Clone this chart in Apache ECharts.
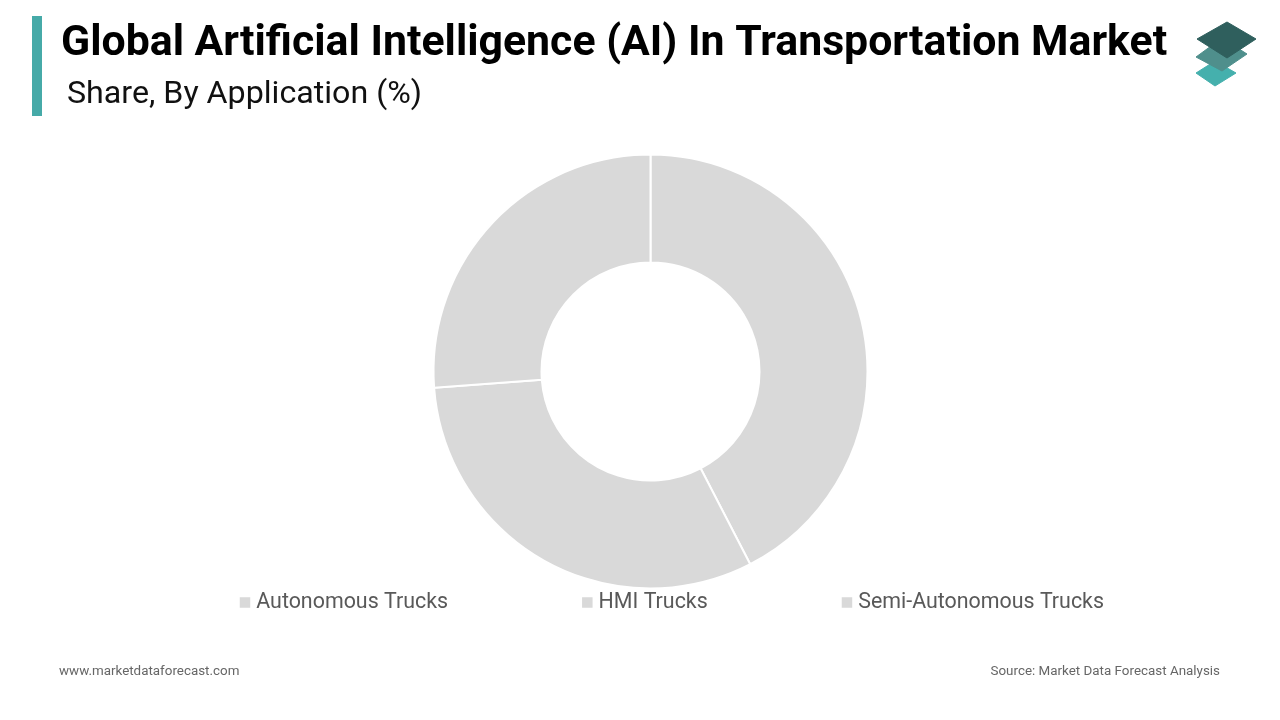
<!DOCTYPE html>
<html>
<head>
<meta charset="utf-8">
<style>
html, body { margin: 0; padding: 0; background: #fff; }
#chart { width: 1280px; height: 720px; }
</style>
<script src="https://cdn.jsdelivr.net/npm/echarts@6/dist/echarts.min.js"></script>
</head>
<body>
<div id="chart"></div>
<script>
var categories = ['Autonomous Trucks', 'HMI Trucks', 'Semi-Autonomous Trucks'];
var shares = [42.4, 31.4, 26.2];

var myChart = echarts.init(document.getElementById('chart'));

var option = {
    animation: false,
    backgroundColor: '#fff',
    textStyle: { fontFamily: 'Roboto' },
    title: [
        { text: 'Global Artificial Intelligence (AI) In Transportation Market', left: 56, top: 18,
          textStyle: { fontFamily: 'Roboto', fontSize: 42.8, fontWeight: 'bold', color: '#000' } },
        { text: 'Share, By Application (%)', left: 62, top: 74,
          textStyle: { fontFamily: 'Roboto', fontSize: 32.2, fontWeight: 'normal', color: '#111' } },
        { text: 'www.marketdataforecast.com', left: 54, top: 660,
          textStyle: { fontFamily: 'Roboto', fontSize: 13.4, fontWeight: 'normal', color: '#666' } },
        { text: 'Source: Market Data Forecast Analysis', right: 55, top: 660,
          textStyle: { fontFamily: 'Roboto', fontSize: 13.4, fontWeight: 'normal', color: '#666' } }
    ],
    legend: {
        data: categories,
        left: 232.75,
        top: 587,
        icon: 'rect',
        itemWidth: 12.5,
        itemHeight: 12.5,
        itemGap: 132,
        textStyle: { fontFamily: 'Roboto', fontSize: 21.4, color: '#595959' }
    },
    series: [{
        type: 'pie',
        center: [650.5, 371.5],
        radius: [109, 217],
        startAngle: 90,
        label: { show: false },
        labelLine: { show: false },
        itemStyle: { color: '#d9d9d9', borderColor: '#fff', borderWidth: 2 },
        data: categories.map(function (name, i) {
            return { name: name, value: shares[i] };
        })
    }],
    graphic: [
        // accent bar next to the title
        { type: 'rect', shape: { x: 32, y: 16, width: 10, height: 100 }, style: { fill: '#46aaa8' } },
        // layered logo, back to front
        { type: 'polygon', shape: { points: [[1215, 61], [1236, 73], [1215, 86], [1196, 73]] },
          style: { fill: '#45b0ad', stroke: '#45b0ad', lineWidth: 1, lineJoin: 'round' } },
        { type: 'polygon', shape: { points: [[1222, 38], [1247, 54], [1222, 71], [1196, 57]] },
          style: { fill: '#4f8f8c', stroke: '#4f8f8c', lineWidth: 1, lineJoin: 'round' } },
        { type: 'polygon', shape: { points: [[1227, 22], [1256, 39], [1227, 58], [1197, 39]] },
          style: { fill: '#2f5f5d', stroke: '#2f5f5d', lineWidth: 1, lineJoin: 'round' } }
    ]
};

myChart.setOption(option);
</script>
</body>
</html>
